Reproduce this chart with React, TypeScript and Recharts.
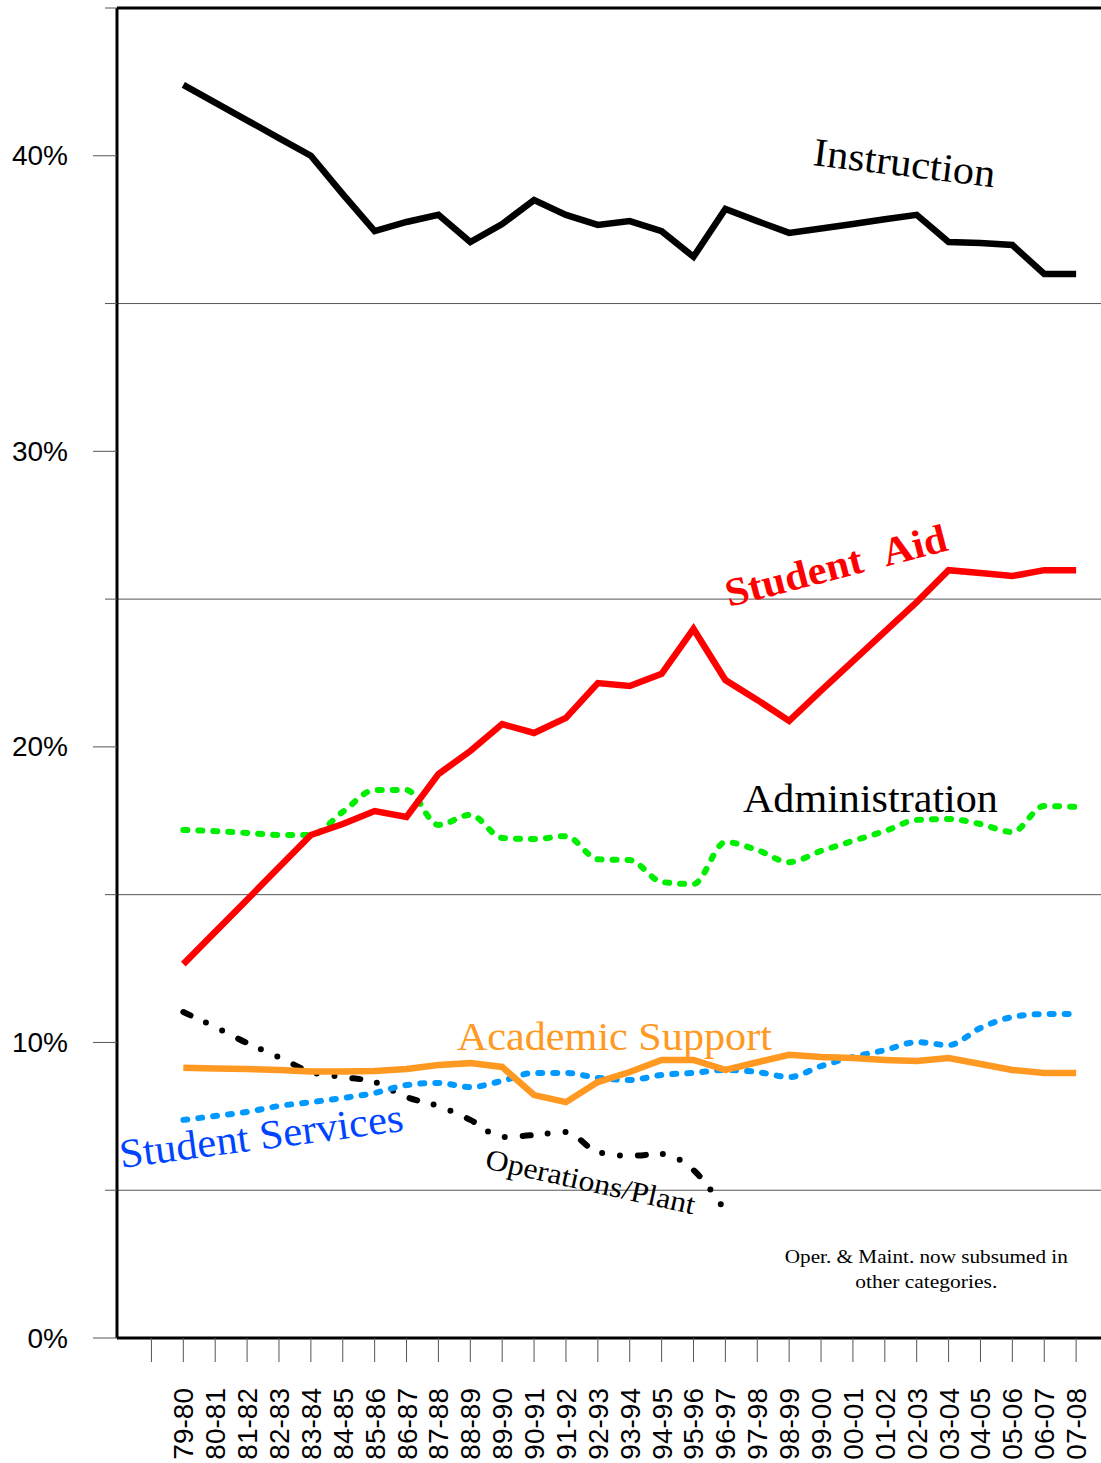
import React from "react";
import {
  ComposedChart,
  Line,
  XAxis,
  YAxis,
  ReferenceLine,
  ReferenceDot,
} from "recharts";

const years = [
  "79-80", "80-81", "81-82", "82-83", "83-84", "84-85", "85-86", "86-87",
  "87-88", "88-89", "89-90", "90-91", "91-92", "92-93", "93-94", "94-95",
  "95-96", "96-97", "97-98", "98-99", "99-00", "00-01", "01-02", "02-03",
  "03-04", "04-05", "05-06", "06-07", "07-08",
];

const instruction = [
  42.4, 41.8, 41.2, 40.6, 40.0, 38.7, 37.45, 37.76, 38.0, 37.08, 37.69, 38.5,
  38.0, 37.66, 37.79, 37.45, 36.58, 38.2, 37.79, 37.39, 37.54, 37.69, 37.85,
  38.0, 37.08, 37.05, 36.98, 36.0, 36.0,
];

const studentAid = [
  12.65, 13.74, 14.83, 15.93, 17.02, 17.39, 17.83, 17.63, 19.08, 19.86, 20.77,
  20.47, 20.98, 22.16, 22.06, 22.47, 23.99, 22.26, 21.59, 20.88, 21.9, 22.9,
  23.9, 24.9, 25.98, 25.88, 25.78, 25.98, 25.98,
];

const administration = [
  17.19, 17.15, 17.09, 17.02, 17.02, 17.8, 18.54, 18.54, 17.36, 17.7, 16.92,
  16.88, 16.98, 16.2, 16.17, 15.43, 15.36, 16.78, 16.51, 16.1, 16.48, 16.82,
  17.15, 17.53, 17.56, 17.39, 17.12, 18.0, 17.97,
];

const academicSupport = [
  9.14, 9.12, 9.1, 9.07, 9.02, 9.02, 9.03, 9.1, 9.24, 9.3, 9.17, 8.22, 7.98,
  8.66, 9.0, 9.41, 9.41, 9.07, 9.33, 9.58, 9.51, 9.47, 9.41, 9.37, 9.47, 9.27,
  9.07, 8.97, 8.97,
];

const studentServices = [
  7.38, 7.51, 7.65, 7.85, 7.98, 8.12, 8.29, 8.56, 8.63, 8.49, 8.7, 8.97, 8.97,
  8.8, 8.73, 8.9, 8.97, 9.07, 9.0, 8.83, 9.2, 9.51, 9.74, 10.01, 9.91, 10.49,
  10.86, 10.96, 10.96,
];

// ends in 96-97, later years folded into other categories
const operations = [
  11.03, 10.52, 9.98, 9.5, 9.0, 8.83, 8.66, 8.15, 7.85, 7.38, 6.8, 6.87, 6.97,
  6.29, 6.16, 6.23, 5.68, 4.3,
];

const yTicks = [0, 5, 10, 15, 20, 25, 30, 35, 40, 45];
const gridLines = [5, 15, 25, 35];
const xTicks = [-1, ...years.map((_, i) => i)];

const data = years.map((year, i) => ({
  idx: i,
  year,
  instruction: instruction[i],
  studentAid: studentAid[i],
  administration: administration[i],
  academicSupport: academicSupport[i],
  studentServices: studentServices[i],
  operations: i < operations.length ? operations[i] : null,
}));

const SERIF = "'Liberation Serif', 'Times New Roman', serif";
const SANS = "'Liberation Sans', Arial, sans-serif";

function YTick(props: any) {
  const { x, y, payload } = props;
  const major = payload.value % 10 === 0;
  return (
    <g>
      <line
        x1={major ? x - 24 : x - 12}
        y1={y}
        x2={x}
        y2={y}
        stroke="#555"
        strokeWidth={1}
      />
      {major && payload.value < 45 && (
        <text
          x={x - 49}
          y={y}
          textAnchor="end"
          dominantBaseline="central"
          fontSize={28}
          fontFamily={SANS}
          fill="#000"
        >
          {payload.value}%
        </text>
      )}
    </g>
  );
}

function XTick(props: any) {
  const { x, y, payload } = props;
  const label = years[payload.value] ?? "";
  return (
    <text
      x={0}
      y={0}
      transform={`translate(${x + 10},${y + 26}) rotate(-90)`}
      textAnchor="end"
      fontSize={28}
      fontFamily={SANS}
      fill="#000"
    >
      {label}
    </text>
  );
}

// text annotation anchored at a data position
function note(
  text: string,
  idx: number,
  val: number,
  opts: {
    color?: string;
    size?: number;
    angle?: number;
    bold?: boolean;
    length?: number;
    anchor?: string;
  } = {}
) {
  const { color = "#000", size = 40, angle = 0, bold = false, length, anchor = "start" } = opts;
  return (
    <ReferenceDot
      key={text}
      x={idx}
      y={val}
      r={0}
      ifOverflow="visible"
      shape={(p: any) => (
        <text
          x={0}
          y={0}
          transform={`translate(${p.cx},${p.cy}) rotate(${angle})`}
          fontSize={size}
          fontFamily={SERIF}
          fontWeight={bold ? "bold" : "normal"}
          fill={color}
          textAnchor={anchor}
          textLength={length}
          lengthAdjust={length ? "spacingAndGlyphs" : undefined}
        >
          {text}
        </text>
      )}
    />
  );
}

export default function App() {
  return (
    <div style={{ position: "absolute", left: 0, top: 0, background: "#fff" }}>
      <ComposedChart
        width={1101}
        height={1463}
        data={data}
        margin={{ top: 8, right: 0, bottom: 0, left: 0 }}
      >
        <XAxis
          dataKey="idx"
          type="number"
          domain={[-2.08, 28.78]}
          allowDataOverflow
          ticks={xTicks}
          interval={0}
          height={125}
          axisLine={{ stroke: "#000", strokeWidth: 3 }}
          tickLine={{ stroke: "#555", strokeWidth: 1 }}
          tickSize={24}
          tickMargin={0}
          tick={<XTick />}
        />
        <YAxis
          type="number"
          domain={[0, 45]}
          ticks={yTicks}
          interval={0}
          width={117}
          axisLine={{ stroke: "#000", strokeWidth: 3 }}
          tickLine={false}
          tickSize={0}
          tickMargin={0}
          tick={<YTick />}
        />
        {gridLines.map((g) => (
          <ReferenceLine key={g} y={g} stroke="#555" strokeWidth={1} />
        ))}
        <ReferenceLine y={45} stroke="#000" strokeWidth={3} />

        <Line
          dataKey="operations"
          type="monotone"
          stroke="#000"
          strokeWidth={6}
          strokeDasharray="8 17 0 18 0 18"
          strokeLinecap="round"
          dot={false}
          isAnimationActive={false}
        />
        <Line
          dataKey="studentServices"
          type="monotone"
          stroke="#0099ff"
          strokeWidth={6}
          strokeDasharray="4 11"
          strokeLinecap="round"
          dot={false}
          isAnimationActive={false}
        />
        <Line
          dataKey="academicSupport"
          type="linear"
          stroke="#ff9922"
          strokeWidth={6.5}
          dot={false}
          isAnimationActive={false}
        />
        <Line
          dataKey="administration"
          type="monotone"
          stroke="#00ee00"
          strokeWidth={6}
          strokeDasharray="4 11"
          strokeLinecap="round"
          dot={false}
          isAnimationActive={false}
        />
        <Line
          dataKey="studentAid"
          type="linear"
          stroke="#ff0000"
          strokeWidth={6.5}
          dot={false}
          isAnimationActive={false}
        />
        <Line
          dataKey="instruction"
          type="linear"
          stroke="#000"
          strokeWidth={6.5}
          dot={false}
          isAnimationActive={false}
        />

        {note("Instruction", 19.72, 39.69, { angle: 7, size: 40, length: 183 })}
        {note("Student\u00A0\u00A0Aid", 17.11, 24.73, {
          color: "#ff0000",
          angle: -14.5,
          size: 40,
          bold: true,
          length: 228,
        })}
        {note("Administration", 17.55, 17.8, { size: 41, length: 255 })}
        {note("Academic Support", 8.58, 9.74, { color: "#ff9922", size: 40, length: 315 })}
        {note("Student Services", -1.95, 5.75, {
          color: "#0044ff",
          angle: -7.5,
          size: 41,
          length: 286,
        })}
        {note("Operations/Plant", 9.43, 5.75, { angle: 12.5, size: 29, length: 214 })}
        {note("Oper. & Maint. now subsumed in", 23.3, 2.54, {
          size: 19,
          anchor: "middle",
          length: 283,
        })}
        {note("other categories.", 23.3, 1.69, { size: 19, anchor: "middle", length: 142 })}
      </ComposedChart>
    </div>
  );
}
